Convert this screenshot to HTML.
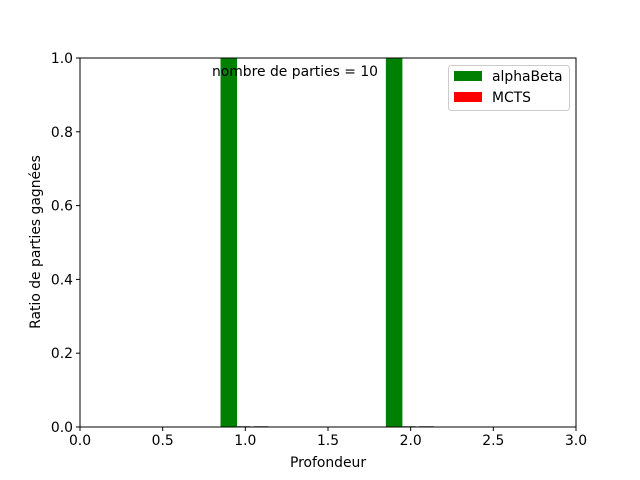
<!DOCTYPE html>
<html><head><meta charset="utf-8"><style>body{margin:0;background:#fff}svg{display:block;font-family:"DejaVu Sans","Liberation Sans",sans-serif}</style></head>
<body>
<svg id="c" width="640" height="480"></svg>
<script>
const positions=[1,2];
const alphaBeta=[1.0,1.0];
const mcts=[0,0];
const other=[0,0];
const xTicks=[0,0.5,1,1.5,2,2.5,3];
const yTicks=[0,0.2,0.4,0.6,0.8,1.0];
const L=80,R=576,T=58,B=427;
const xs=v=>L+(v/3)*(R-L), ys=v=>B-v*(B-T);
const s=document.getElementById('c');const NS='http://www.w3.org/2000/svg';
function el(t,a,p){const e=document.createElementNS(NS,t);for(const k in a)e.setAttribute(k,a[k]);(p||s).appendChild(e);return e;}
positions.forEach((p,i)=>{
 const g=el('rect',{x:xs(p-0.15),y:ys(alphaBeta[i]),width:xs(0.1)-xs(0),height:B-ys(alphaBeta[i]),fill:'green'});
 
 
 const m=el('rect',{x:xs(p-0.05),y:ys(mcts[i])-1,width:xs(0.08)-xs(0),height:Math.max(1,B-ys(mcts[i])),fill:mcts[i]>0?'red':'#999'});
 
 
 const o=el('rect',{x:xs(p+0.05),y:ys(other[i])-1,width:xs(0.09)-xs(0),height:1,fill:'#999'});
 
 
});
el('rect',{x:L,y:T,width:R-L,height:B-T,fill:'none',stroke:'#000','stroke-width':1});
xTicks.forEach(v=>{const x=xs(v);el('line',{x1:x,x2:x,y1:B,y2:B+4,stroke:'#000'});const t=el('text',{x:x,y:B+18,'text-anchor':'middle','font-size':13.9});t.textContent=v.toFixed(1);
});
yTicks.forEach(v=>{const y=ys(v);el('line',{x1:L-4,x2:L,y1:y,y2:y,stroke:'#000'});const t=el('text',{x:L-7,y:y+5,'text-anchor':'end','font-size':13.9});t.textContent=v.toFixed(1);
});
</script>
<svg width="640" height="480" style="position:absolute;left:0;top:0;font-family:'DejaVu Sans','Liberation Sans',sans-serif">
<text x="328" y="467" text-anchor="middle" font-size="13.9">Profondeur</text>
<text transform="translate(40,242) rotate(-90)" text-anchor="middle" font-size="13.9">Ratio de parties gagnées</text>
<text x="295" y="76" text-anchor="middle" font-size="13.9">nombre de parties = 10</text>
<g>
<rect x="448.5" y="65.5" width="121" height="45" rx="3" fill="#fff" fill-opacity="0.8" stroke="#ccc"/>
<rect x="454" y="71" width="28" height="10" fill="green"/>
<text x="492" y="81" font-size="13.9">alphaBeta</text>
<rect x="454" y="92" width="28" height="10" fill="red"/>
<text x="492" y="102" font-size="13.9">MCTS</text>
</g>
</svg>
</body></html>
